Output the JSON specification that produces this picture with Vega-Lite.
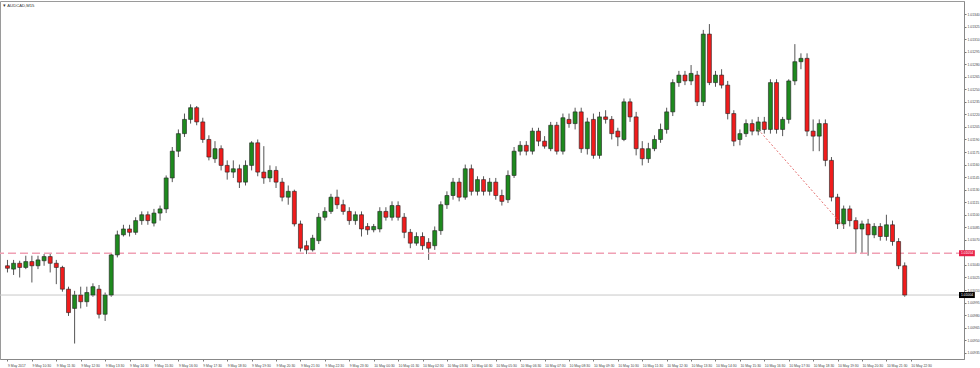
{
"$schema":"https://vega.github.io/schema/vega-lite/v6.json",
"width":964,"height":358,
"autosize":{"type":"none"},
"padding":{"left":0,"top":1,"right":16,"bottom":9},
"background":"#ffffff",
"title":{"text":"▼ AUDCAD,M15","anchor":"start","orient":"top","offset":-7,"fontSize":4.2,"fontWeight":"normal","color":"#333","font":"Liberation Sans","dx":3},
"config":{"view":{"stroke":"#9a9a9a"},"font":"Liberation Sans",
 "axis":{"labelOverlap":false,"labelBound":false,"labelFlush":false,"labelFontSize":3.4,"labelColor":"#444","grid":false,"title":null,"tickSize":2,"tickColor":"#777","domainColor":"#888","tickCount":300}},
"datasets":{
"levels":[{"p":1.01004,"kind":"bid","txt":"1.01004"},{"p":1.01054,"kind":"line","txt":"1.01054"}],
"trend":[{"t":"2017-05-10T16:15Z","p":1.01202},{"t":"2017-05-10T19:45Z","p":1.01086}]
},
"data":{"values":[
{"t":"2017-05-09T09:30Z","o":1.01039,"h":1.01046,"l":1.01031,"c":1.01036},
{"t":"2017-05-09T09:45Z","o":1.01035,"h":1.01046,"l":1.01028,"c":1.01042},
{"t":"2017-05-09T10:00Z","o":1.01042,"h":1.01045,"l":1.01025,"c":1.01037},
{"t":"2017-05-09T10:15Z","o":1.01037,"h":1.01051,"l":1.01035,"c":1.01044},
{"t":"2017-05-09T10:30Z","o":1.01044,"h":1.01051,"l":1.01019,"c":1.01039},
{"t":"2017-05-09T10:45Z","o":1.01039,"h":1.01051,"l":1.01035,"c":1.01046},
{"t":"2017-05-09T11:00Z","o":1.01045,"h":1.01053,"l":1.01039,"c":1.01050},
{"t":"2017-05-09T11:15Z","o":1.01050,"h":1.01054,"l":1.01031,"c":1.01042},
{"t":"2017-05-09T11:30Z","o":1.01042,"h":1.01046,"l":1.01017,"c":1.01037},
{"t":"2017-05-09T11:45Z","o":1.01037,"h":1.01039,"l":1.01008,"c":1.01011},
{"t":"2017-05-09T12:00Z","o":1.01011,"h":1.01014,"l":1.00979,"c":1.00983},
{"t":"2017-05-09T12:15Z","o":1.00988,"h":1.01009,"l":1.00946,"c":1.01004},
{"t":"2017-05-09T12:30Z","o":1.01004,"h":1.01014,"l":1.00988,"c":1.00996},
{"t":"2017-05-09T12:45Z","o":1.00996,"h":1.01014,"l":1.00990,"c":1.01007},
{"t":"2017-05-09T13:00Z","o":1.01004,"h":1.01018,"l":1.01002,"c":1.01014},
{"t":"2017-05-09T13:15Z","o":1.01011,"h":1.01016,"l":1.00976,"c":1.00981},
{"t":"2017-05-09T13:30Z","o":1.00981,"h":1.01007,"l":1.00973,"c":1.01004},
{"t":"2017-05-09T13:45Z","o":1.01004,"h":1.01054,"l":1.01002,"c":1.01052},
{"t":"2017-05-09T14:00Z","o":1.01052,"h":1.01081,"l":1.01049,"c":1.01076},
{"t":"2017-05-09T14:15Z","o":1.01076,"h":1.01088,"l":1.01074,"c":1.01083},
{"t":"2017-05-09T14:30Z","o":1.01083,"h":1.01088,"l":1.01074,"c":1.01079},
{"t":"2017-05-09T14:45Z","o":1.01079,"h":1.01097,"l":1.01076,"c":1.01093},
{"t":"2017-05-09T15:00Z","o":1.01093,"h":1.01104,"l":1.01088,"c":1.01100},
{"t":"2017-05-09T15:15Z","o":1.01100,"h":1.01104,"l":1.01088,"c":1.01093},
{"t":"2017-05-09T15:30Z","o":1.01090,"h":1.01107,"l":1.01086,"c":1.01102},
{"t":"2017-05-09T15:45Z","o":1.01102,"h":1.01111,"l":1.01093,"c":1.01107},
{"t":"2017-05-09T16:00Z","o":1.01107,"h":1.01147,"l":1.01102,"c":1.01144},
{"t":"2017-05-09T16:15Z","o":1.01144,"h":1.01181,"l":1.01139,"c":1.01176},
{"t":"2017-05-09T16:30Z","o":1.01176,"h":1.01202,"l":1.01169,"c":1.01197},
{"t":"2017-05-09T16:45Z","o":1.01197,"h":1.01221,"l":1.01193,"c":1.01214},
{"t":"2017-05-09T17:00Z","o":1.01214,"h":1.01232,"l":1.01209,"c":1.01228},
{"t":"2017-05-09T17:15Z","o":1.01228,"h":1.01230,"l":1.01207,"c":1.01211},
{"t":"2017-05-09T17:30Z","o":1.01211,"h":1.01216,"l":1.01186,"c":1.01190},
{"t":"2017-05-09T17:45Z","o":1.01190,"h":1.01195,"l":1.01165,"c":1.01169},
{"t":"2017-05-09T18:00Z","o":1.01167,"h":1.01188,"l":1.01162,"c":1.01179},
{"t":"2017-05-09T18:15Z","o":1.01179,"h":1.01183,"l":1.01153,"c":1.01159},
{"t":"2017-05-09T18:30Z","o":1.01159,"h":1.01165,"l":1.01142,"c":1.01151},
{"t":"2017-05-09T18:45Z","o":1.01151,"h":1.01165,"l":1.01144,"c":1.01155},
{"t":"2017-05-09T19:00Z","o":1.01155,"h":1.01160,"l":1.01132,"c":1.01139},
{"t":"2017-05-09T19:15Z","o":1.01139,"h":1.01165,"l":1.01135,"c":1.01159},
{"t":"2017-05-09T19:30Z","o":1.01159,"h":1.01188,"l":1.01153,"c":1.01186},
{"t":"2017-05-09T19:45Z","o":1.01186,"h":1.01190,"l":1.01146,"c":1.01151},
{"t":"2017-05-09T20:00Z","o":1.01151,"h":1.01182,"l":1.01137,"c":1.01144},
{"t":"2017-05-09T20:15Z","o":1.01144,"h":1.01159,"l":1.01139,"c":1.01153},
{"t":"2017-05-09T20:30Z","o":1.01153,"h":1.01158,"l":1.01132,"c":1.01139},
{"t":"2017-05-09T20:45Z","o":1.01139,"h":1.01144,"l":1.01116,"c":1.01121},
{"t":"2017-05-09T21:00Z","o":1.01121,"h":1.01135,"l":1.01112,"c":1.01128},
{"t":"2017-05-09T21:15Z","o":1.01128,"h":1.01130,"l":1.01086,"c":1.01089},
{"t":"2017-05-09T21:30Z","o":1.01089,"h":1.01093,"l":1.01056,"c":1.01060},
{"t":"2017-05-09T21:45Z","o":1.01063,"h":1.01069,"l":1.01053,"c":1.01058},
{"t":"2017-05-09T22:00Z","o":1.01058,"h":1.01076,"l":1.01056,"c":1.01072},
{"t":"2017-05-09T22:15Z","o":1.01069,"h":1.01102,"l":1.01065,"c":1.01097},
{"t":"2017-05-09T22:30Z","o":1.01097,"h":1.01109,"l":1.01093,"c":1.01104},
{"t":"2017-05-09T22:45Z","o":1.01104,"h":1.01125,"l":1.01101,"c":1.01121},
{"t":"2017-05-09T23:00Z","o":1.01121,"h":1.01130,"l":1.01107,"c":1.01112},
{"t":"2017-05-09T23:15Z","o":1.01112,"h":1.01118,"l":1.01100,"c":1.01104},
{"t":"2017-05-09T23:30Z","o":1.01104,"h":1.01109,"l":1.01088,"c":1.01093},
{"t":"2017-05-09T23:45Z","o":1.01093,"h":1.01104,"l":1.01088,"c":1.01100},
{"t":"2017-05-10T00:00Z","o":1.01100,"h":1.01104,"l":1.01074,"c":1.01083},
{"t":"2017-05-10T00:15Z","o":1.01086,"h":1.01090,"l":1.01076,"c":1.01082},
{"t":"2017-05-10T00:30Z","o":1.01082,"h":1.01089,"l":1.01079,"c":1.01086},
{"t":"2017-05-10T00:45Z","o":1.01083,"h":1.01109,"l":1.01079,"c":1.01104},
{"t":"2017-05-10T01:00Z","o":1.01104,"h":1.01109,"l":1.01093,"c":1.01097},
{"t":"2017-05-10T01:15Z","o":1.01097,"h":1.01116,"l":1.01093,"c":1.01111},
{"t":"2017-05-10T01:30Z","o":1.01111,"h":1.01116,"l":1.01093,"c":1.01097},
{"t":"2017-05-10T01:45Z","o":1.01097,"h":1.01102,"l":1.01072,"c":1.01079},
{"t":"2017-05-10T02:00Z","o":1.01079,"h":1.01083,"l":1.01060,"c":1.01066},
{"t":"2017-05-10T02:15Z","o":1.01066,"h":1.01079,"l":1.01063,"c":1.01074},
{"t":"2017-05-10T02:30Z","o":1.01074,"h":1.01079,"l":1.01058,"c":1.01063},
{"t":"2017-05-10T02:45Z","o":1.01067,"h":1.01072,"l":1.01046,"c":1.01060},
{"t":"2017-05-10T03:00Z","o":1.01063,"h":1.01086,"l":1.01058,"c":1.01081},
{"t":"2017-05-10T03:15Z","o":1.01081,"h":1.01116,"l":1.01076,"c":1.01112},
{"t":"2017-05-10T03:30Z","o":1.01112,"h":1.01128,"l":1.01107,"c":1.01123},
{"t":"2017-05-10T03:45Z","o":1.01123,"h":1.01144,"l":1.01118,"c":1.01139},
{"t":"2017-05-10T04:00Z","o":1.01139,"h":1.01144,"l":1.01116,"c":1.01121},
{"t":"2017-05-10T04:15Z","o":1.01121,"h":1.01160,"l":1.01118,"c":1.01155},
{"t":"2017-05-10T04:30Z","o":1.01155,"h":1.01160,"l":1.01123,"c":1.01128},
{"t":"2017-05-10T04:45Z","o":1.01128,"h":1.01146,"l":1.01123,"c":1.01142},
{"t":"2017-05-10T05:00Z","o":1.01142,"h":1.01146,"l":1.01123,"c":1.01128},
{"t":"2017-05-10T05:15Z","o":1.01128,"h":1.01144,"l":1.01123,"c":1.01139},
{"t":"2017-05-10T05:30Z","o":1.01139,"h":1.01144,"l":1.01118,"c":1.01123},
{"t":"2017-05-10T05:45Z","o":1.01123,"h":1.01130,"l":1.01111,"c":1.01116},
{"t":"2017-05-10T06:00Z","o":1.01118,"h":1.01153,"l":1.01114,"c":1.01147},
{"t":"2017-05-10T06:15Z","o":1.01147,"h":1.01181,"l":1.01144,"c":1.01176},
{"t":"2017-05-10T06:30Z","o":1.01176,"h":1.01188,"l":1.01171,"c":1.01183},
{"t":"2017-05-10T06:45Z","o":1.01183,"h":1.01188,"l":1.01171,"c":1.01176},
{"t":"2017-05-10T07:00Z","o":1.01176,"h":1.01204,"l":1.01172,"c":1.01200},
{"t":"2017-05-10T07:15Z","o":1.01200,"h":1.01204,"l":1.01182,"c":1.01188},
{"t":"2017-05-10T07:30Z","o":1.01188,"h":1.01194,"l":1.01179,"c":1.01182},
{"t":"2017-05-10T07:45Z","o":1.01179,"h":1.01211,"l":1.01176,"c":1.01207},
{"t":"2017-05-10T08:00Z","o":1.01207,"h":1.01211,"l":1.01172,"c":1.01176},
{"t":"2017-05-10T08:15Z","o":1.01176,"h":1.01221,"l":1.01172,"c":1.01216},
{"t":"2017-05-10T08:30Z","o":1.01214,"h":1.01221,"l":1.01204,"c":1.01209},
{"t":"2017-05-10T08:45Z","o":1.01209,"h":1.01228,"l":1.01202,"c":1.01223},
{"t":"2017-05-10T09:00Z","o":1.01223,"h":1.01228,"l":1.01174,"c":1.01179},
{"t":"2017-05-10T09:15Z","o":1.01179,"h":1.01216,"l":1.01172,"c":1.01211},
{"t":"2017-05-10T09:30Z","o":1.01214,"h":1.01221,"l":1.01167,"c":1.01171},
{"t":"2017-05-10T09:45Z","o":1.01171,"h":1.01223,"l":1.01167,"c":1.01217},
{"t":"2017-05-10T10:00Z","o":1.01217,"h":1.01225,"l":1.01209,"c":1.01214},
{"t":"2017-05-10T10:15Z","o":1.01214,"h":1.01218,"l":1.01190,"c":1.01197},
{"t":"2017-05-10T10:30Z","o":1.01200,"h":1.01204,"l":1.01182,"c":1.01193},
{"t":"2017-05-10T10:45Z","o":1.01190,"h":1.01239,"l":1.01188,"c":1.01235},
{"t":"2017-05-10T11:00Z","o":1.01235,"h":1.01239,"l":1.01211,"c":1.01217},
{"t":"2017-05-10T11:15Z","o":1.01217,"h":1.01223,"l":1.01171,"c":1.01179},
{"t":"2017-05-10T11:30Z","o":1.01179,"h":1.01188,"l":1.01159,"c":1.01167},
{"t":"2017-05-10T11:45Z","o":1.01167,"h":1.01186,"l":1.01162,"c":1.01179},
{"t":"2017-05-10T12:00Z","o":1.01179,"h":1.01195,"l":1.01176,"c":1.01190},
{"t":"2017-05-10T12:15Z","o":1.01190,"h":1.01209,"l":1.01186,"c":1.01202},
{"t":"2017-05-10T12:30Z","o":1.01202,"h":1.01228,"l":1.01197,"c":1.01223},
{"t":"2017-05-10T12:45Z","o":1.01223,"h":1.01262,"l":1.01218,"c":1.01258},
{"t":"2017-05-10T13:00Z","o":1.01258,"h":1.01272,"l":1.01253,"c":1.01267},
{"t":"2017-05-10T13:15Z","o":1.01267,"h":1.01272,"l":1.01255,"c":1.01260},
{"t":"2017-05-10T13:30Z","o":1.01260,"h":1.01279,"l":1.01255,"c":1.01269},
{"t":"2017-05-10T13:45Z","o":1.01267,"h":1.01272,"l":1.01230,"c":1.01235},
{"t":"2017-05-10T14:00Z","o":1.01235,"h":1.01321,"l":1.01230,"c":1.01316},
{"t":"2017-05-10T14:15Z","o":1.01316,"h":1.01328,"l":1.01255,"c":1.01258},
{"t":"2017-05-10T14:30Z","o":1.01258,"h":1.01272,"l":1.01253,"c":1.01267},
{"t":"2017-05-10T14:45Z","o":1.01267,"h":1.01274,"l":1.01251,"c":1.01255},
{"t":"2017-05-10T15:00Z","o":1.01255,"h":1.01260,"l":1.01214,"c":1.01221},
{"t":"2017-05-10T15:15Z","o":1.01221,"h":1.01225,"l":1.01182,"c":1.01188},
{"t":"2017-05-10T15:30Z","o":1.01190,"h":1.01202,"l":1.01183,"c":1.01197},
{"t":"2017-05-10T15:45Z","o":1.01197,"h":1.01214,"l":1.01193,"c":1.01209},
{"t":"2017-05-10T16:00Z","o":1.01209,"h":1.01214,"l":1.01195,"c":1.01200},
{"t":"2017-05-10T16:15Z","o":1.01200,"h":1.01217,"l":1.01195,"c":1.01211},
{"t":"2017-05-10T16:30Z","o":1.01211,"h":1.01217,"l":1.01197,"c":1.01202},
{"t":"2017-05-10T16:45Z","o":1.01202,"h":1.01262,"l":1.01197,"c":1.01258},
{"t":"2017-05-10T17:00Z","o":1.01258,"h":1.01262,"l":1.01197,"c":1.01202},
{"t":"2017-05-10T17:15Z","o":1.01202,"h":1.01217,"l":1.01194,"c":1.01214},
{"t":"2017-05-10T17:30Z","o":1.01214,"h":1.01262,"l":1.01209,"c":1.01260},
{"t":"2017-05-10T17:45Z","o":1.01260,"h":1.01304,"l":1.01255,"c":1.01283},
{"t":"2017-05-10T18:00Z","o":1.01283,"h":1.01293,"l":1.01274,"c":1.01287},
{"t":"2017-05-10T18:15Z","o":1.01287,"h":1.01293,"l":1.01194,"c":1.01200},
{"t":"2017-05-10T18:30Z","o":1.01200,"h":1.01214,"l":1.01176,"c":1.01194},
{"t":"2017-05-10T18:45Z","o":1.01194,"h":1.01214,"l":1.01176,"c":1.01209},
{"t":"2017-05-10T19:00Z","o":1.01209,"h":1.01214,"l":1.01158,"c":1.01165},
{"t":"2017-05-10T19:15Z","o":1.01165,"h":1.01169,"l":1.01116,"c":1.01121},
{"t":"2017-05-10T19:30Z","o":1.01121,"h":1.01125,"l":1.01083,"c":1.01089},
{"t":"2017-05-10T19:45Z","o":1.01089,"h":1.01111,"l":1.01083,"c":1.01107},
{"t":"2017-05-10T20:00Z","o":1.01107,"h":1.01111,"l":1.01086,"c":1.01093},
{"t":"2017-05-10T20:15Z","o":1.01093,"h":1.01097,"l":1.01054,"c":1.01083},
{"t":"2017-05-10T20:30Z","o":1.01083,"h":1.01093,"l":1.01053,"c":1.01089},
{"t":"2017-05-10T20:45Z","o":1.01089,"h":1.01095,"l":1.01051,"c":1.01076},
{"t":"2017-05-10T21:00Z","o":1.01076,"h":1.01090,"l":1.01072,"c":1.01086},
{"t":"2017-05-10T21:15Z","o":1.01086,"h":1.01090,"l":1.01069,"c":1.01074},
{"t":"2017-05-10T21:30Z","o":1.01074,"h":1.01100,"l":1.01069,"c":1.01088},
{"t":"2017-05-10T21:45Z","o":1.01088,"h":1.01093,"l":1.01063,"c":1.01068},
{"t":"2017-05-10T22:00Z","o":1.01068,"h":1.01072,"l":1.01035,"c":1.01039},
{"t":"2017-05-10T22:15Z","o":1.01039,"h":1.01043,"l":1.01002,"c":1.01004}
]},
"layer":[
{"mark":{"type":"rule","color":"#555555","strokeWidth":1},
 "encoding":{
  "x":{"field":"t","type":"temporal","scale":{"type":"utc","domain":[1494321835100,1494462505100],"nice":false},
   "axis":{"orient":"bottom","tickCount":300,"values":[1494322200000,1494325800000,1494329400000,1494333000000,1494336600000,1494340200000,1494343800000,1494347400000,1494351000000,1494354600000,1494358200000,1494361800000,1494365400000,1494369000000,1494372600000,1494376200000,1494379800000,1494383400000,1494387000000,1494390600000,1494394200000,1494397800000,1494401400000,1494405000000,1494408600000,1494412200000,1494415800000,1494419400000,1494423000000,1494426600000,1494430200000,1494433800000,1494437400000,1494441000000,1494444600000,1494448200000,1494451800000,1494455400000],
   "labelExpr":"time(datum.value) == 1494322200000 ? '9 May 2017' : utcFormat(datum.value, '%-d %b %H:%M')",
   "labelAlign":"left","labelPadding":2,"labelOverlap":false,"labelBaseline":"top"}},
  "y":{"field":"l","type":"quantitative","scale":{"domain":[1.009335,1.013496],"zero":false,"nice":false},
   "axis":{"orient":"right","format":".5f","tickCount":300,"labelOverlap":false,"values":[1.00935,1.0095,1.00965,1.0098,1.00995,1.0101,1.01025,1.0104,1.0107,1.01085,1.011,1.01115,1.0113,1.01145,1.0116,1.01175,1.0119,1.01205,1.0122,1.01235,1.0125,1.01265,1.0128,1.01295,1.0131,1.01325,1.0134],
   "labelPadding":1,"labelBaseline":"middle"}},
  "y2":{"field":"h"}}},
{"data":{"name":"levels"},"transform":[{"filter":"datum.kind=='bid'"}],
 "mark":{"type":"rule","color":"#c8c8c8","strokeWidth":1},
 "encoding":{"y":{"field":"p","type":"quantitative","axis":{"orient":"right"}}}},
{"data":{"name":"levels"},"transform":[{"filter":"datum.kind=='line'"}],
 "mark":{"type":"rule","color":"#f0a0b4","strokeWidth":1.5,"strokeDash":[8,4]},
 "encoding":{"y":{"field":"p","type":"quantitative","axis":{"orient":"right"}}}},
{"mark":{"type":"bar","width":4,"stroke":"#222222","strokeWidth":0.6},
 "encoding":{
  "x":{"field":"t","type":"temporal"},
  "y":{"field":"o","type":"quantitative","axis":{"orient":"right"}},
  "y2":{"field":"c"},
  "color":{"condition":{"test":"datum.c >= datum.o","value":"#1e8a1e"},"value":"#f01c1c"}}},
{"data":{"name":"trend"},
 "mark":{"type":"line","color":"#e57373","strokeWidth":1,"strokeDash":[2,2]},
 "encoding":{"x":{"field":"t","type":"temporal"},"y":{"field":"p","type":"quantitative","axis":{"orient":"right"}}}},
{"data":{"name":"levels"},
 "mark":{"type":"bar","height":6},
 "encoding":{
  "y":{"field":"p","type":"quantitative","axis":{"orient":"right"}},
  "x":{"datum":1494462505100,"type":"temporal"},
  "x2":{"datum":1494464840100},
  "color":{"condition":{"test":"datum.kind=='bid'","value":"#000000"},"value":"#e8224a"}}},
{"data":{"name":"levels"},
 "mark":{"type":"text","align":"left","baseline":"middle","dx":2,"fontSize":3.4,"color":"#ffffff"},
 "encoding":{
  "y":{"field":"p","type":"quantitative","axis":{"orient":"right"}},
  "x":{"datum":1494462505100,"type":"temporal"},
  "text":{"field":"txt"}}}
]
}
